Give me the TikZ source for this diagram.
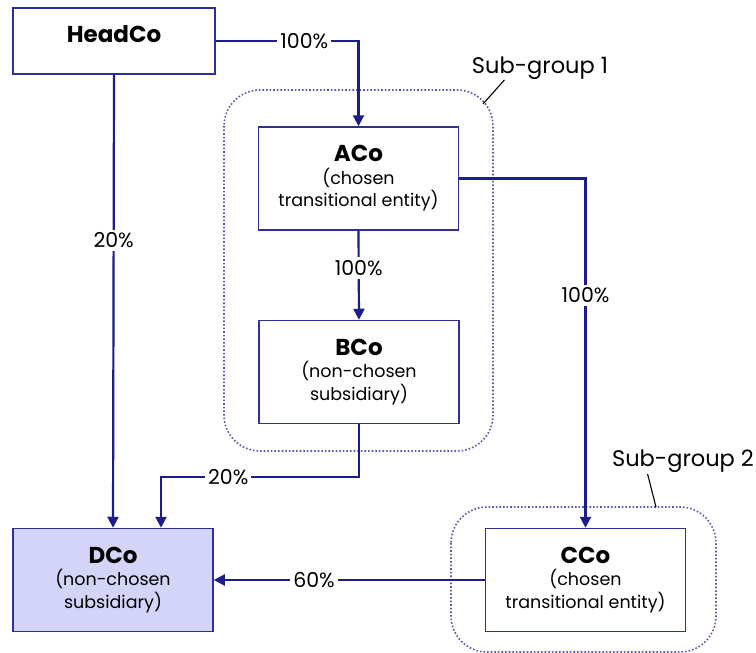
\documentclass[tikz,border=0pt]{standalone}
\usepackage{fontspec}
\setmainfont{Poppins}
\usepackage{tikz}
\usetikzlibrary{arrows.meta,positioning,calc}
\definecolor{navy}{HTML}{1C1C8A}
\definecolor{boxline}{HTML}{2F2F9C}
\definecolor{lavender}{HTML}{D4D4F8}
\definecolor{dotline}{HTML}{5858B0}
\newcommand{\coname}[1]{{\fontsize{23}{26}\selectfont\bfseries #1}}

\begin{document}
\begin{tikzpicture}[x=1pt,y=-1pt,
  firm/.style={rectangle,draw=boxline,line width=1.5pt,fill=white,align=center,
               minimum width=200pt,minimum height=103pt,inner sep=2pt,
               font=\fontsize{17.5}{22.5}\selectfont},
  link/.style={-{Triangle[length=11pt,width=11pt]},line width=2.2pt,draw=navy},
  pct/.style={fill=white,inner sep=3pt,font=\fontsize{20.5}{22}\selectfont},
  group/.style={draw=dotline,line width=1.6pt,dotted,rounded corners=36pt},
  tag/.style={font=\fontsize{22.5}{26}\selectfont},
  pointer/.style={line width=1.1pt,draw=black}
]
\useasboundingbox (0,0) rectangle (756,653);

% sub-groups
\draw[group] (224,90) rectangle (493,451);
\draw[group] (451,507) rectangle (716,652);
\node[tag] (sg1) at (540,68) {Sub-group 1};
\node[tag] (sg2) at (683,461) {Sub-group 2};
\coordinate (sg1tip) at (483,104);
\coordinate (sg2tip) at (656,507);
\draw[pointer] ([xshift=36pt,yshift=3pt]sg1.south west) -- (sg1tip);
\draw[pointer] ([xshift=39pt,yshift=2pt]sg2.south west) -- (sg2tip);

% companies
\node[firm,minimum width=202pt,minimum height=66pt,text depth=15pt] (head) at (114,41) {\coname{HeadCo}};
\node[firm] (aco) at (358.5,178.5) {\coname{ACo}\\[0pt](chosen\\transitional entity)};
\node[firm] (bco) at (359,372) {\coname{BCo}\\[0pt](non-chosen\\subsidiary)};
\node[firm,fill=lavender] (dco) at (113,580) {\coname{DCo}\\[0pt](non-chosen\\subsidiary)};
\node[firm] (cco) at (585.5,580) {\coname{CCo}\\[0pt](chosen\\transitional entity)};
\coordinate (dtop) at ([xshift=48pt]dco.north);

% holdings
\draw[link] (head.east) -| node[pct,pos=0.31] {100\%} (aco.north);
\draw[link] (head.south) -- node[pct,pos=0.366] {20\%} (dco.north);
\draw[link] (aco.south) -- node[pct,pos=0.42] {100\%} (bco.north);
\draw[link] (aco.east) -| node[pct,pos=0.667] {100\%} (cco.north);
\draw[link] (bco.south) -- ++(0,53) -| node[pct,pos=0.33] {20\%} (dtop);
\draw[link] (cco.west) -- node[pct,pos=0.63] {60\%} (dco.east);
\end{tikzpicture}
\end{document}
